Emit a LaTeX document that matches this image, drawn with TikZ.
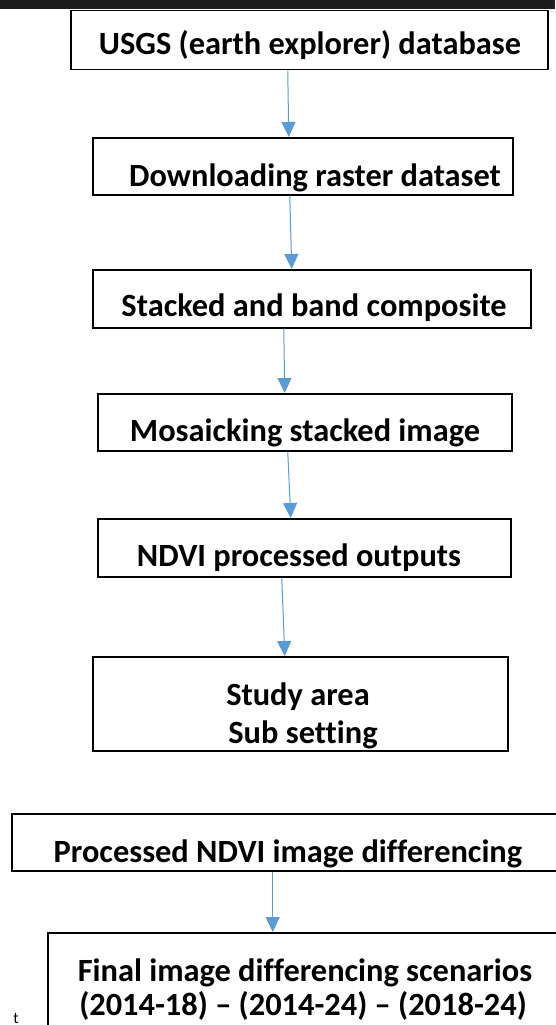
\documentclass[tikz,border=0pt]{standalone}
\usepackage{fontspec}
\setmainfont{Carlito}[Ligatures=NoCommon]
\usetikzlibrary{arrows.meta}
\definecolor{arrblue}{HTML}{5B9BD5}
\definecolor{topbar}{HTML}{1C1C1C}
\tikzset{
  box/.style={draw=black, line width=1.5pt, fill=white, anchor=north west, inner sep=0pt},
  lbl/.style={anchor=base, inner sep=0pt, font=\fontsize{32.4}{38}\selectfont\bfseries},
  arr/.style={draw=arrblue, line width=1pt, -{Triangle[width=14pt,length=15pt]}}
}
\begin{document}
\begin{tikzpicture}[x=1pt,y=-1pt]
\useasboundingbox (0,0) rectangle (555,1025);
\fill[topbar] (0,0) rectangle (555,9);
% boxes
\node[box, minimum width=477pt, minimum height=59pt] (b1) at (70,10) {};
\node[box, minimum width=420pt, minimum height=57pt] (b2) at (92,137) {};
\node[box, minimum width=438pt, minimum height=58pt] (b3) at (92,269) {};
\node[box, minimum width=414pt, minimum height=57pt] (b4) at (97,393) {};
\node[box, minimum width=413pt, minimum height=58pt] (b5) at (97,518) {};
\node[box, minimum width=415pt, minimum height=94pt] (b6) at (92,656) {};
\node[box, minimum width=560pt, minimum height=57pt] (b7) at (11,813) {};
\node[box, minimum width=530pt, minimum height=110pt] (b8) at (47,932) {};
% labels
\node[lbl] (t1) at (310,55) {USGS (earth explorer) database};
\node[lbl] (t2) at (315,186) {Downloading raster dataset};
\node[lbl] (t3) at (314,316) {Stacked and band composite};
\node[lbl] (t4) at (305,441) {Mosaicking stacked image};
\node[lbl] (t5) at (299,566) {NDVI processed outputs};
\node[lbl] (t6a) at (298,705) {Study area};
\node[lbl] (t6b) at (303,743) {Sub setting};
\node[lbl] (t7) at (288,862) {Processed NDVI image differencing};
\node[lbl] (t8a) at (305,981) {Final image differencing scenarios};
\node[lbl] (t8b) at (303,1015) {(2014-18) – (2014-24) – (2018-24)};
\node[anchor=base, inner sep=0pt, font=\fontsize{16}{18}\selectfont] (tt) at (16,1023) {t};
% arrows
\draw[arr] ([xshift=-21.5pt]b1.south) -- ([xshift=-14pt]b2.north);
\draw[arr] ([xshift=-13pt]b2.south) -- ([xshift=-20pt]b3.north);
\draw[arr] ([xshift=-28pt]b3.south) -- ([xshift=-20pt]b4.north);
\draw[arr] ([xshift=-17pt]b4.south) -- ([xshift=-13.5pt]b5.north);
\draw[arr] ([xshift=-22.5pt]b5.south) -- ([xshift=-15.5pt]b6.north);
\draw[arr] ([xshift=-19pt]b7.south) -- ([xshift=-40pt]b8.north);
\end{tikzpicture}
\end{document}
